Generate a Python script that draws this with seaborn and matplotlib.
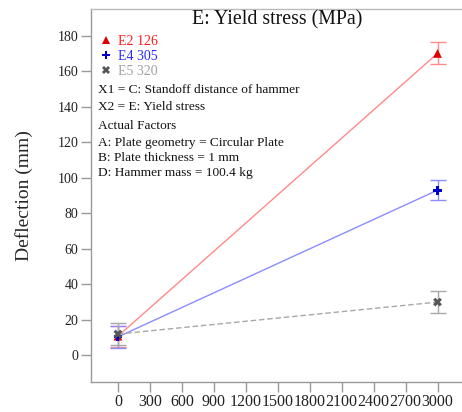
import numpy as np
import pandas as pd
import matplotlib
matplotlib.use("Agg")
import matplotlib.pyplot as plt
from matplotlib.lines import Line2D
import seaborn as sns

# Standoff distance of hammer (x) and yield-stress levels
standoff = [0, 3000]
levels = ["E2 126", "E4 305", "E5 320"]
defl_e2 = [10.8, 170.0]
defl_e4 = [10.4, 93.0]
defl_e5 = [12.0, 30.0]
err_e2 = [6.0, 6.2]
err_e4 = [6.0, 5.8]
err_e5 = [6.0, 6.0]
x_ticks = [0, 300, 600, 900, 1200, 1500, 1800, 2100, 2400, 2700, 3000]
y_ticks = [0, 20, 40, 60, 80, 100, 120, 140, 160, 180]

info_lines = [
    "X1 = C: Standoff distance of hammer",
    "X2 = E: Yield stress",
    "Actual Factors",
    "A: Plate geometry = Circular Plate",
    "B: Plate thickness = 1 mm",
    "D: Hammer mass = 100.4 kg",
]

df = pd.DataFrame({
    "standoff": standoff * 3,
    "deflection": defl_e2 + defl_e4 + defl_e5,
    "err": err_e2 + err_e4 + err_e5,
    "level": [levels[0]] * 2 + [levels[1]] * 2 + [levels[2]] * 2,
})

line_colors = {"E2 126": "#ff8a8a", "E4 305": "#8c8cff", "E5 320": "#a8a8a8"}
mark_colors = {"E2 126": "#e00000", "E4 305": "#0000c8", "E5 320": "#555555"}
text_colors = {"E2 126": "#ff1a1a", "E4 305": "#2a2aff", "E5 320": "#a0a0a0"}
markers = {"E2 126": "^", "E4 305": "P", "E5 320": "X"}
dashes = {"E2 126": "", "E4 305": "", "E5 320": (4, 2)}

sns.set_theme(style="white")
plt.rcParams["font.family"] = ["Liberation Serif", "DejaVu Serif"]

W, H = 462, 412
fig = plt.figure(figsize=(W / 100, H / 100), dpi=100)
ax = fig.add_axes([91 / W, 30 / H, 371 / W, 373 / H])

sns.lineplot(data=df, x="standoff", y="deflection", hue="level", style="level",
             palette=line_colors, dashes=dashes, linewidth=1.0, legend=False,
             errorbar=None, ax=ax)

for lvl in levels:
    sub = df[df["level"] == lvl]
    ax.errorbar(sub["standoff"], sub["deflection"], yerr=sub["err"], fmt="none",
                ecolor=line_colors[lvl], elinewidth=1.0, capsize=5.8, capthick=1.0,
                zorder=3)

sns.scatterplot(data=df, x="standoff", y="deflection", hue="level", style="level",
                palette=mark_colors, markers=markers, s=40, edgecolor="none",
                legend=False, ax=ax, zorder=4)

ax.set_xlim(-253, 3230)
ax.set_ylim(-15, 195)
ax.set_xticks(x_ticks)
ax.set_xticklabels([str(v) for v in x_ticks], fontsize=11.5, color="#222222")
ax.set_yticks(y_ticks)
ax.set_yticklabels([str(v) for v in y_ticks], fontsize=10, color="#222222")
ax.tick_params(axis="both", which="major", direction="out", length=7, width=1,
               color="#999999", pad=2, left=True, bottom=True)
ax.set_xlabel("")
ax.set_ylabel("Deflection (mm)", fontsize=14, labelpad=18)

for side in ["left", "bottom"]:
    ax.spines[side].set_color("#999999")
    ax.spines[side].set_linewidth(1.0)
ax.spines["top"].set_color("#bbbbbb")
ax.spines["top"].set_linewidth(1.0)
ax.spines["right"].set_visible(False)

# title and info block, placed in figure pixels measured from the top-left
def fig_text(xpx, ypx, s, **kw):
    fig.text(xpx / W, 1 - ypx / H, s, **kw)

fig_text(277, 20, "E: Yield stress (MPa)", ha="center", va="center",
         fontsize=14.3, color="#111111")

handles = [Line2D([], [], linestyle="none", marker=markers[l], color=mark_colors[l],
                  markersize=6, markeredgewidth=0) for l in levels]
leg = ax.legend(handles, levels, loc="upper left", bbox_to_anchor=(0.013, 0.946),
                frameon=False, fontsize=10, handlelength=0.6, handletextpad=0.6,
                labelspacing=0.15, borderaxespad=0.2, borderpad=0.2)
for txt, lvl in zip(leg.get_texts(), levels):
    txt.set_color(text_colors[lvl])

y_positions = [90, 107, 126, 143, 158, 173]
for line, ypx in zip(info_lines, y_positions):
    fig_text(98, ypx, line, fontsize=9.6, color="#111111", ha="left", va="center")

fig.savefig("out.png", dpi=100)
